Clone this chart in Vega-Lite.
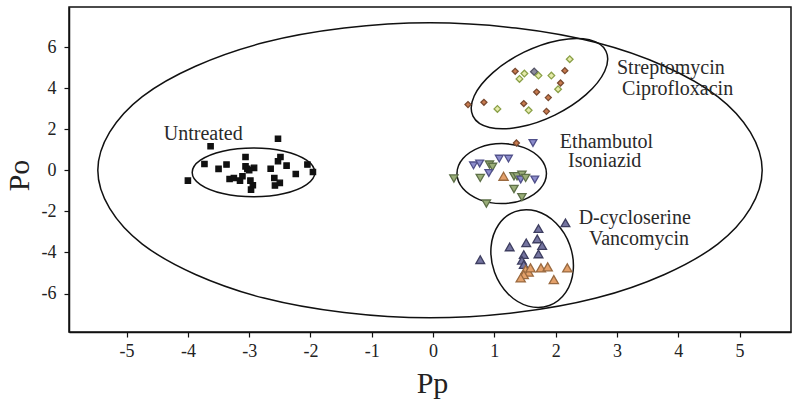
{
  "$schema": "https://vega.github.io/schema/vega-lite/v6.json",
  "width": 722,
  "height": 325,
  "autosize": {"type": "none"},
  "padding": {"left": 69, "top": 7, "right": 9, "bottom": 74},
  "background": "white",
  "config": {
    "view": {"stroke": "#111", "strokeWidth": 1.5},
    "font": "Liberation Serif",
    "axis": {
      "grid": false,
      "domainColor": "#111",
      "domainWidth": 1.5,
      "tickColor": "#111",
      "tickSize": 5,
      "tickWidth": 1.2,
      "labelFont": "Liberation Serif",
      "labelFontSize": 18,
      "labelColor": "#222",
      "titleFont": "Liberation Serif",
      "titleFontWeight": "normal",
      "titleColor": "#222",
      "titleFontSize": 30
    }
  },
  "datasets": {
    "ellipses": [
      {"e": "all", "i": 0, "x": 5.37, "y": 0},
      {"e": "all", "i": 1, "x": 4.644, "y": 3.59},
      {"e": "all", "i": 2, "x": 2.66, "y": 6.218},
      {"e": "all", "i": 3, "x": -0.05, "y": 7.18},
      {"e": "all", "i": 4, "x": -2.76, "y": 6.218},
      {"e": "all", "i": 5, "x": -4.744, "y": 3.59},
      {"e": "all", "i": 6, "x": -5.47, "y": 0},
      {"e": "all", "i": 7, "x": -4.744, "y": -3.59},
      {"e": "all", "i": 8, "x": -2.76, "y": -6.218},
      {"e": "all", "i": 9, "x": -0.05, "y": -7.18},
      {"e": "all", "i": 10, "x": 2.66, "y": -6.218},
      {"e": "all", "i": 11, "x": 4.644, "y": -3.59},
      {"e": "untreated", "i": 0, "x": -1.93, "y": -0.1},
      {"e": "untreated", "i": 1, "x": -2.064, "y": 0.495},
      {"e": "untreated", "i": 2, "x": -2.43, "y": 0.931},
      {"e": "untreated", "i": 3, "x": -2.93, "y": 1.09},
      {"e": "untreated", "i": 4, "x": -3.43, "y": 0.931},
      {"e": "untreated", "i": 5, "x": -3.796, "y": 0.495},
      {"e": "untreated", "i": 6, "x": -3.93, "y": -0.1},
      {"e": "untreated", "i": 7, "x": -3.796, "y": -0.695},
      {"e": "untreated", "i": 8, "x": -3.43, "y": -1.131},
      {"e": "untreated", "i": 9, "x": -2.93, "y": -1.29},
      {"e": "untreated", "i": 10, "x": -2.43, "y": -1.131},
      {"e": "untreated", "i": 11, "x": -2.064, "y": -0.695},
      {"e": "strep", "i": 0, "x": 2.821, "y": 5.798},
      {"e": "strep", "i": 1, "x": 2.55, "y": 6.351},
      {"e": "strep", "i": 2, "x": 2.062, "y": 6.334},
      {"e": "strep", "i": 3, "x": 1.485, "y": 5.75},
      {"e": "strep", "i": 4, "x": 0.977, "y": 4.755},
      {"e": "strep", "i": 5, "x": 0.671, "y": 3.618},
      {"e": "strep", "i": 6, "x": 0.651, "y": 2.64},
      {"e": "strep", "i": 7, "x": 0.921, "y": 2.087},
      {"e": "strep", "i": 8, "x": 1.41, "y": 2.104},
      {"e": "strep", "i": 9, "x": 1.986, "y": 2.688},
      {"e": "strep", "i": 10, "x": 2.495, "y": 3.683},
      {"e": "strep", "i": 11, "x": 2.8, "y": 4.82},
      {"e": "etham", "i": 0, "x": 1.85, "y": -0.16},
      {"e": "etham", "i": 1, "x": 1.752, "y": 0.57},
      {"e": "etham", "i": 2, "x": 1.485, "y": 1.104},
      {"e": "etham", "i": 3, "x": 1.12, "y": 1.3},
      {"e": "etham", "i": 4, "x": 0.755, "y": 1.104},
      {"e": "etham", "i": 5, "x": 0.488, "y": 0.57},
      {"e": "etham", "i": 6, "x": 0.39, "y": -0.16},
      {"e": "etham", "i": 7, "x": 0.488, "y": -0.89},
      {"e": "etham", "i": 8, "x": 0.755, "y": -1.424},
      {"e": "etham", "i": 9, "x": 1.12, "y": -1.62},
      {"e": "etham", "i": 10, "x": 1.485, "y": -1.424},
      {"e": "etham", "i": 11, "x": 1.752, "y": -0.89},
      {"e": "dcyc", "i": 0, "x": 1.338, "y": -2.01},
      {"e": "dcyc", "i": 1, "x": 1.068, "y": -2.65},
      {"e": "dcyc", "i": 2, "x": 0.946, "y": -3.73},
      {"e": "dcyc", "i": 3, "x": 1.003, "y": -4.963},
      {"e": "dcyc", "i": 4, "x": 1.225, "y": -6.017},
      {"e": "dcyc", "i": 5, "x": 1.552, "y": -6.61},
      {"e": "dcyc", "i": 6, "x": 1.896, "y": -6.583},
      {"e": "dcyc", "i": 7, "x": 2.165, "y": -5.944},
      {"e": "dcyc", "i": 8, "x": 2.287, "y": -4.863},
      {"e": "dcyc", "i": 9, "x": 2.23, "y": -3.631},
      {"e": "dcyc", "i": 10, "x": 2.008, "y": -2.577},
      {"e": "dcyc", "i": 11, "x": 1.682, "y": -1.984}
    ],
    "points": [
      {"group": "Untreated", "x": -3.63, "y": 1.17},
      {"group": "Untreated", "x": -2.53, "y": 1.54},
      {"group": "Untreated", "x": -3.06, "y": 0.65},
      {"group": "Untreated", "x": -2.49, "y": 0.65},
      {"group": "Untreated", "x": -2.53, "y": 0.44},
      {"group": "Untreated", "x": -3.73, "y": 0.31},
      {"group": "Untreated", "x": -3.37, "y": 0.28},
      {"group": "Untreated", "x": -2.39, "y": 0.23},
      {"group": "Untreated", "x": -2.05, "y": 0.28},
      {"group": "Untreated", "x": -3.5, "y": 0.07},
      {"group": "Untreated", "x": -3.06, "y": 0.19},
      {"group": "Untreated", "x": -3.03, "y": 0.07},
      {"group": "Untreated", "x": -2.92, "y": 0.12},
      {"group": "Untreated", "x": -3.0, "y": 0.0},
      {"group": "Untreated", "x": -2.65, "y": 0.08},
      {"group": "Untreated", "x": -1.96, "y": -0.08},
      {"group": "Untreated", "x": -2.24, "y": -0.18},
      {"group": "Untreated", "x": -4.0, "y": -0.5},
      {"group": "Untreated", "x": -3.32, "y": -0.42},
      {"group": "Untreated", "x": -3.25, "y": -0.37},
      {"group": "Untreated", "x": -3.15, "y": -0.5},
      {"group": "Untreated", "x": -3.11, "y": -0.29},
      {"group": "Untreated", "x": -2.98, "y": -0.5},
      {"group": "Untreated", "x": -2.94, "y": -0.73},
      {"group": "Untreated", "x": -2.97, "y": -0.94},
      {"group": "Untreated", "x": -2.59, "y": -0.37},
      {"group": "Untreated", "x": -2.58, "y": -0.74},
      {"group": "Untreated", "x": -2.5, "y": -0.61},
      {"group": "Streptomycin", "x": 1.34, "y": 4.82},
      {"group": "Ciprofloxacin", "x": 1.49, "y": 4.71},
      {"group": "Ciprofloxacin", "x": 1.41, "y": 4.45},
      {"group": "Other", "x": 1.65, "y": 4.8},
      {"group": "Ciprofloxacin", "x": 1.72, "y": 4.61},
      {"group": "Ciprofloxacin", "x": 1.93, "y": 4.61},
      {"group": "Streptomycin", "x": 2.15, "y": 4.85},
      {"group": "Ciprofloxacin", "x": 2.23, "y": 5.41},
      {"group": "Streptomycin", "x": 2.08, "y": 4.25},
      {"group": "Ciprofloxacin", "x": 2.04, "y": 3.95},
      {"group": "Streptomycin", "x": 1.69, "y": 3.81},
      {"group": "Streptomycin", "x": 1.88, "y": 3.54},
      {"group": "Streptomycin", "x": 0.57, "y": 3.2},
      {"group": "Streptomycin", "x": 0.83, "y": 3.31},
      {"group": "Ciprofloxacin", "x": 1.05, "y": 2.99},
      {"group": "Streptomycin", "x": 1.48, "y": 3.25},
      {"group": "Ciprofloxacin", "x": 1.56, "y": 2.92},
      {"group": "Streptomycin", "x": 1.85, "y": 2.87},
      {"group": "Streptomycin", "x": 1.36, "y": 1.33},
      {"group": "Ethambutol", "x": 1.63, "y": 1.33},
      {"group": "Ethambutol", "x": 0.66, "y": 0.24},
      {"group": "Ethambutol", "x": 0.76, "y": 0.33},
      {"group": "Isoniazid", "x": 0.92, "y": 0.28},
      {"group": "Isoniazid", "x": 0.97, "y": 0.17},
      {"group": "Ethambutol", "x": 1.08, "y": 0.57},
      {"group": "Ethambutol", "x": 1.23, "y": 0.57},
      {"group": "Isoniazid", "x": 0.34, "y": -0.4},
      {"group": "Isoniazid", "x": 0.77, "y": -0.37},
      {"group": "Ethambutol", "x": 0.91, "y": -0.13},
      {"group": "Vancomycin", "x": 1.15, "y": -0.29},
      {"group": "Isoniazid", "x": 1.32, "y": -0.29},
      {"group": "Isoniazid", "x": 1.37, "y": -0.29},
      {"group": "Isoniazid", "x": 1.45, "y": -0.21},
      {"group": "Ethambutol", "x": 1.43, "y": -0.45},
      {"group": "Isoniazid", "x": 1.51, "y": -0.37},
      {"group": "Ethambutol", "x": 1.66, "y": -0.45},
      {"group": "Isoniazid", "x": 1.32, "y": -0.91},
      {"group": "Isoniazid", "x": 1.45, "y": -1.31},
      {"group": "Isoniazid", "x": 0.87, "y": -1.62},
      {"group": "D-cycloserine", "x": 2.16, "y": -2.56},
      {"group": "D-cycloserine", "x": 1.72, "y": -2.84},
      {"group": "D-cycloserine", "x": 1.7, "y": -3.34},
      {"group": "D-cycloserine", "x": 1.52, "y": -3.53},
      {"group": "D-cycloserine", "x": 1.25, "y": -3.73},
      {"group": "D-cycloserine", "x": 1.78, "y": -3.66},
      {"group": "D-cycloserine", "x": 1.72, "y": -4.07},
      {"group": "D-cycloserine", "x": 0.77, "y": -4.35},
      {"group": "D-cycloserine", "x": 1.48, "y": -4.1},
      {"group": "D-cycloserine", "x": 1.45, "y": -4.38},
      {"group": "D-cycloserine", "x": 1.48, "y": -4.59},
      {"group": "Vancomycin", "x": 1.51, "y": -4.83},
      {"group": "Vancomycin", "x": 1.56, "y": -4.96},
      {"group": "Vancomycin", "x": 1.48, "y": -5.08},
      {"group": "Vancomycin", "x": 1.43, "y": -5.24},
      {"group": "Vancomycin", "x": 1.76, "y": -4.75},
      {"group": "Vancomycin", "x": 1.87, "y": -4.7},
      {"group": "Vancomycin", "x": 2.19, "y": -4.75},
      {"group": "Vancomycin", "x": 1.97, "y": -5.32},
      {"group": "Vancomycin", "x": 1.59, "y": -4.75}
    ],
    "labels": [
      {"label": "Untreated", "x": -3.75, "y": 1.79},
      {"label": "Streptomycin", "x": 3.88, "y": 5.0},
      {"label": "Ciprofloxacin", "x": 3.99, "y": 3.96},
      {"label": "Ethambutol", "x": 2.83, "y": 1.4},
      {"label": "Isoniazid", "x": 2.8, "y": 0.43},
      {"label": "D-cycloserine", "x": 3.29, "y": -2.32},
      {"label": "Vancomycin", "x": 3.36, "y": -3.36}
    ]
  },
  "layer": [
    {
      "data": {"name": "ellipses"},
      "mark": {"type": "line", "interpolate": "cardinal-closed", "color": "#111", "strokeWidth": 1.5},
      "encoding": {
        "x": {"field": "x", "type": "quantitative", "scale": {"domain": [-5.94, 5.84], "nice": false, "zero": false},
          "axis": {"values": [-5, -4, -3, -2, -1, 0, 1, 2, 3, 4, 5], "title": "Pp", "labelFont": "Liberation Serif", "labelPadding": 5, "labelExpr": "'' + datum.value", "titleX": 363, "titleY": 36}},
        "y": {"field": "y", "type": "quantitative", "scale": {"domain": [-7.87, 7.95], "nice": false, "zero": false},
          "axis": {"values": [-6, -4, -2, 0, 2, 4, 6], "title": "Po", "labelFont": "Liberation Serif", "labelPadding": 8, "labelExpr": "'' + datum.value", "titleX": -35, "titleY": 168}},
        "detail": {"field": "e"},
        "order": {"field": "i", "type": "quantitative"}
      }
    },
    {
      "mark": {"type": "rule", "color": "#111", "strokeWidth": 1.3},
      "encoding": {"x": {"datum": 0}}
    },
    {
      "mark": {"type": "rule", "color": "#111", "strokeWidth": 1.3},
      "encoding": {"y": {"datum": 0}}
    },
    {
      "data": {"name": "points"},
      "mark": {"type": "point", "filled": false, "strokeWidth": 1.3, "opacity": 1, "fillOpacity": 1},
      "encoding": {
        "x": {"field": "x", "type": "quantitative"},
        "y": {"field": "y", "type": "quantitative"},
        "shape": {"field": "group", "type": "nominal", "legend": null,
          "scale": {"domain": ["Untreated", "Streptomycin", "Ciprofloxacin", "Other", "Ethambutol", "Isoniazid", "D-cycloserine", "Vancomycin"],
            "range": ["square", "diamond", "diamond", "diamond", "triangle-down", "triangle-down", "triangle-up", "triangle-up"]}},
        "fill": {"field": "group", "type": "nominal", "legend": null,
          "scale": {"domain": ["Untreated", "Streptomycin", "Ciprofloxacin", "Other", "Ethambutol", "Isoniazid", "D-cycloserine", "Vancomycin"],
            "range": ["#111111", "#c97b4f", "#e6ebaa", "#8c8c9c", "#8c8ccc", "#9aae78", "#7474a0", "#e3a06a"]}},
        "stroke": {"field": "group", "type": "nominal", "legend": null,
          "scale": {"domain": ["Untreated", "Streptomycin", "Ciprofloxacin", "Other", "Ethambutol", "Isoniazid", "D-cycloserine", "Vancomycin"],
            "range": ["#111111", "#7a4a30", "#8aa048", "#555566", "#50508a", "#5e7048", "#3e3e60", "#9a6a40"]}},
        "size": {"field": "group", "type": "nominal", "legend": null,
          "scale": {"domain": ["Untreated", "Streptomycin", "Ciprofloxacin", "Other", "Ethambutol", "Isoniazid", "D-cycloserine", "Vancomycin"],
            "range": [28, 85, 85, 85, 68, 68, 68, 68]}}
      }
    },
    {
      "data": {"name": "labels"},
      "mark": {"type": "text", "font": "Liberation Serif", "fontSize": 20, "color": "#2a2a2a", "align": "center", "baseline": "middle"},
      "encoding": {
        "x": {"field": "x", "type": "quantitative"},
        "y": {"field": "y", "type": "quantitative"},
        "text": {"field": "label"}
      }
    }
  ]
}
